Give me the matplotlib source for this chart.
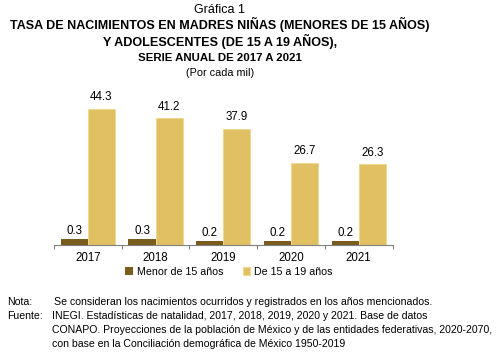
import numpy as np
import matplotlib
matplotlib.use("Agg")
import matplotlib.pyplot as plt

plt.rcParams['font.family'] = ['Liberation Sans', 'DejaVu Sans']

years = ['2017', '2018', '2019', '2020', '2021']
menor_15 = [0.3, 0.3, 0.2, 0.2, 0.2]
de_15_19 = [44.3, 41.2, 37.9, 26.7, 26.3]

dark = '#7a5c1e'
light = '#e0c063'

fig = plt.figure(figsize=(5, 3.54), dpi=100)
ax = fig.add_axes([0.108, 0.308, 0.677, 0.434])
# the small series is drawn on its own (hidden) scale so it stays visible
ax2 = ax.twinx()

x = np.arange(len(years))
w = 0.4
b1 = ax2.bar(x - w / 2, menor_15, w, color=dark, label='Menor de 15 años')
b2 = ax.bar(x + w / 2, de_15_19, w, color=light, edgecolor='#f0d88a',
            linewidth=0.6, label='De 15 a 19 años')

ax.set_ylim(0, 50)
ax2.set_ylim(0, 8)
ax.set_xlim(-0.5, len(years) - 0.5)

for xi, v in zip(x, de_15_19):
    ax.text(xi + w / 2, v + 1.8, f'{v:.1f}', ha='center', va='bottom', fontsize=8.3)
for xi, v in zip(x, menor_15):
    ax2.text(xi - w / 2, v + 0.12, f'{v:.1f}', ha='center', va='bottom', fontsize=8.3)

for a in (ax, ax2):
    for s in ['top', 'right', 'left']:
        a.spines[s].set_visible(False)
    a.set_yticks([])
ax2.spines['bottom'].set_visible(False)
ax.spines['bottom'].set_color('#808080')
ax.spines['bottom'].set_linewidth(0.8)

ax.set_xticks(x)
ax.set_xticklabels(years, fontsize=8.3)
ax.tick_params(axis='x', which='major', length=0, pad=5)
ax.set_xticks(np.arange(-0.5, len(years)), minor=True)
ax.tick_params(axis='x', which='minor', length=3, color='#808080', width=0.8)

fig.legend(handles=[b1, b2], loc='center', bbox_to_anchor=(0.458, 0.232),
           ncol=2, frameon=False, fontsize=7.7, handlelength=0.7,
           handleheight=0.7, handletextpad=0.4, columnspacing=1.8)

# titles
fig.text(0.44, 0.972, 'Gráfica 1', ha='center', va='center', fontsize=9)
fig.text(0.44, 0.93, 'TASA DE NACIMIENTOS EN MADRES NIÑAS (MENORES DE 15 AÑOS)',
         ha='center', va='center', fontsize=9, fontweight='bold')
fig.text(0.44, 0.882, 'Y ADOLESCENTES (DE 15 A 19 AÑOS),',
         ha='center', va='center', fontsize=9.1, fontweight='bold')
fig.text(0.44, 0.836, 'SERIE ANUAL DE 2017 A 2021',
         ha='center', va='center', fontsize=8.2, fontweight='bold')
fig.text(0.44, 0.794, '(Por cada mil)', ha='center', va='center', fontsize=7.8)

# notes
note_fs = 7.6
fig.text(0.014, 0.147, 'Nota:', ha='left', va='center', fontsize=note_fs)
fig.text(0.108, 0.147, 'Se consideran los nacimientos ocurridos y registrados en los años mencionados.',
         ha='left', va='center', fontsize=note_fs)
fig.text(0.014, 0.107, 'Fuente:', ha='left', va='center', fontsize=note_fs)
fig.text(0.104, 0.107, 'INEGI. Estadísticas de natalidad, 2017, 2018, 2019, 2020 y 2021. Base de datos',
         ha='left', va='center', fontsize=note_fs)
fig.text(0.104, 0.067, 'CONAPO. Proyecciones de la población de México y de las entidades federativas, 2020-2070,',
         ha='left', va='center', fontsize=note_fs)
fig.text(0.104, 0.027, 'con base en la Conciliación demográfica de México 1950-2019',
         ha='left', va='center', fontsize=note_fs)

fig.savefig('out.png', dpi=100)
